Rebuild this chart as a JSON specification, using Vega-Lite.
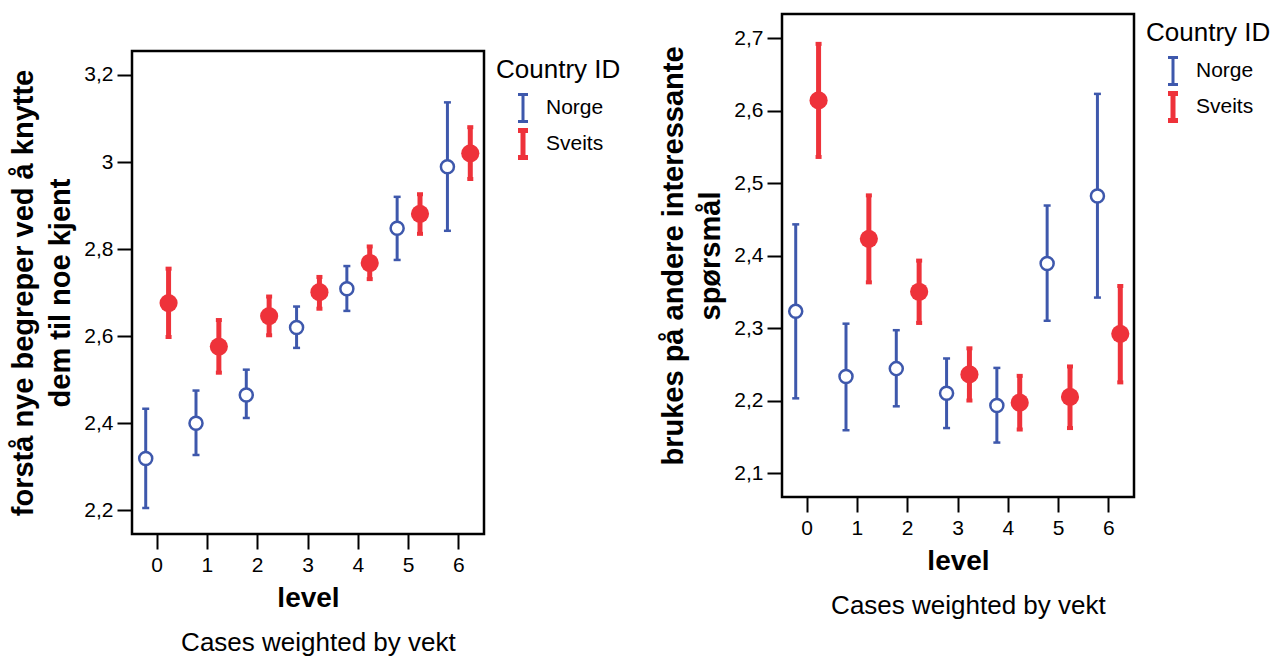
{
  "$schema": "https://vega.github.io/schema/vega-lite/v6.json",
  "padding": {"left": 8, "top": 12, "right": 0, "bottom": 0},
  "datasets": {
    "a": [
      {"level": 0, "country": "Norge", "mean": 2.319, "lo": 2.205, "hi": 2.433},
      {"level": 1, "country": "Norge", "mean": 2.400, "lo": 2.327, "hi": 2.475},
      {"level": 2, "country": "Norge", "mean": 2.465, "lo": 2.412, "hi": 2.523},
      {"level": 3, "country": "Norge", "mean": 2.620, "lo": 2.573, "hi": 2.668},
      {"level": 4, "country": "Norge", "mean": 2.709, "lo": 2.658, "hi": 2.761},
      {"level": 5, "country": "Norge", "mean": 2.848, "lo": 2.775, "hi": 2.920},
      {"level": 6, "country": "Norge", "mean": 2.989, "lo": 2.842, "hi": 3.137},
      {"level": 0, "country": "Sveits", "mean": 2.676, "lo": 2.598, "hi": 2.755},
      {"level": 1, "country": "Sveits", "mean": 2.576, "lo": 2.516, "hi": 2.637},
      {"level": 2, "country": "Sveits", "mean": 2.646, "lo": 2.602, "hi": 2.691},
      {"level": 3, "country": "Sveits", "mean": 2.701, "lo": 2.663, "hi": 2.736},
      {"level": 4, "country": "Sveits", "mean": 2.768, "lo": 2.731, "hi": 2.806},
      {"level": 5, "country": "Sveits", "mean": 2.881, "lo": 2.835, "hi": 2.926},
      {"level": 6, "country": "Sveits", "mean": 3.020, "lo": 2.961, "hi": 3.080}
    ],
    "b": [
      {"level": 0, "country": "Norge", "mean": 2.323, "lo": 2.203, "hi": 2.443},
      {"level": 1, "country": "Norge", "mean": 2.233, "lo": 2.159, "hi": 2.306},
      {"level": 2, "country": "Norge", "mean": 2.244, "lo": 2.192, "hi": 2.297},
      {"level": 3, "country": "Norge", "mean": 2.210, "lo": 2.162, "hi": 2.258},
      {"level": 4, "country": "Norge", "mean": 2.193, "lo": 2.142, "hi": 2.245},
      {"level": 5, "country": "Norge", "mean": 2.389, "lo": 2.310, "hi": 2.469},
      {"level": 6, "country": "Norge", "mean": 2.482, "lo": 2.342, "hi": 2.623},
      {"level": 0, "country": "Sveits", "mean": 2.614, "lo": 2.536, "hi": 2.692},
      {"level": 1, "country": "Sveits", "mean": 2.423, "lo": 2.363, "hi": 2.483},
      {"level": 2, "country": "Sveits", "mean": 2.350, "lo": 2.307, "hi": 2.393},
      {"level": 3, "country": "Sveits", "mean": 2.236, "lo": 2.200, "hi": 2.272},
      {"level": 4, "country": "Sveits", "mean": 2.197, "lo": 2.160, "hi": 2.234},
      {"level": 5, "country": "Sveits", "mean": 2.205, "lo": 2.162, "hi": 2.247},
      {"level": 6, "country": "Sveits", "mean": 2.292, "lo": 2.225, "hi": 2.358}
    ],
    "empty": []
  },
  "hconcat": [
    {
      "spacing": 0,
      "resolve": {"scale": {"color": "independent", "strokeWidth": "independent"}, "legend": {"color": "independent", "strokeWidth": "independent"}},
      "vconcat": [
        {
          "width": 352,
          "height": 35,
          "data": {"name": "empty"},
          "view": {"stroke": null},
          "mark": {"type": "point"}
        },
        {
          "width": 352,
          "height": 483,
          "data": {"name": "a"},
          "title": {"text": "Cases weighted by vekt", "orient": "bottom", "fontSize": 26, "fontWeight": "normal", "offset": 18, "anchor": "middle", "frame": "bounds"},
          "encoding": {
            "x": {"field": "level", "type": "ordinal", "title": "level", "scale": {"paddingInner": 0, "paddingOuter": 0}},
            "xOffset": {"field": "country", "type": "nominal", "scale": {"domain": ["Norge", "Sveits"], "paddingInner": 0, "paddingOuter": 0.1}},
            "y": {"field": "mean", "type": "quantitative", "title": ["forstå nye begreper ved å knytte", "dem til noe kjent"], "scale": {"domain": [2.1455, 3.255], "nice": false, "zero": false}, "axis": {"values": [2.2, 2.4, 2.6, 2.8, 3.0, 3.2], "labelExpr": "replace(format(datum.value, '.1~f'), '.', ',')"}}
          },
          "layer": [
            {
              "mark": {"type": "rule"},
              "encoding": {
                "y": {"field": "lo", "type": "quantitative", "title": ["forstå nye begreper ved å knytte", "dem til noe kjent"]},
                "y2": {"field": "hi"},
                "color": {"field": "country", "type": "nominal", "title": "Country ID", "scale": {"domain": ["Norge", "Sveits"], "range": ["#3e58ac", "#ee323a"]}},
                "strokeWidth": {"field": "country", "type": "ordinal", "title": "Country ID", "scale": {"domain": ["Norge", "Sveits"], "range": [3, 5]}}
              }
            },
            {"transform": [{"filter": "datum.country == 'Norge'"}], "mark": {"type": "tick", "size": 7, "thickness": 2.5, "color": "#3e58ac", "opacity": 1}, "encoding": {"y": {"field": "lo", "type": "quantitative", "title": ["forstå nye begreper ved å knytte", "dem til noe kjent"]}}},
            {"transform": [{"filter": "datum.country == 'Norge'"}], "mark": {"type": "tick", "size": 7, "thickness": 2.5, "color": "#3e58ac", "opacity": 1}, "encoding": {"y": {"field": "hi", "type": "quantitative", "title": ["forstå nye begreper ved å knytte", "dem til noe kjent"]}}},
            {"transform": [{"filter": "datum.country == 'Sveits'"}], "mark": {"type": "tick", "size": 6, "thickness": 4, "color": "#ee323a", "opacity": 1}, "encoding": {"y": {"field": "lo", "type": "quantitative", "title": ["forstå nye begreper ved å knytte", "dem til noe kjent"]}}},
            {"transform": [{"filter": "datum.country == 'Sveits'"}], "mark": {"type": "tick", "size": 6, "thickness": 4, "color": "#ee323a", "opacity": 1}, "encoding": {"y": {"field": "hi", "type": "quantitative", "title": ["forstå nye begreper ved å knytte", "dem til noe kjent"]}}},
            {"transform": [{"filter": "datum.country == 'Norge'"}], "mark": {"type": "point", "shape": "circle", "filled": false, "size": 170, "strokeWidth": 2.5, "color": "#3e58ac", "fill": "white", "fillOpacity": 1, "opacity": 1}},
            {"transform": [{"filter": "datum.country == 'Sveits'"}], "mark": {"type": "point", "shape": "circle", "filled": true, "size": 330, "color": "#ee323a", "opacity": 1}}
          ]
        }
      ]
    },
    {
      "width": 352,
      "height": 483,
      "data": {"name": "b"},
      "title": {"text": "Cases weighted by vekt", "orient": "bottom", "fontSize": 26, "fontWeight": "normal", "offset": 18, "anchor": "middle", "frame": "bounds"},
      "encoding": {
        "x": {"field": "level", "type": "ordinal", "title": "level", "scale": {"paddingInner": 0, "paddingOuter": 0}},
        "xOffset": {"field": "country", "type": "nominal", "scale": {"domain": ["Norge", "Sveits"], "paddingInner": 0, "paddingOuter": 0.1}},
        "y": {"field": "mean", "type": "quantitative", "title": ["brukes på andere interessante", "spørsmål"], "scale": {"domain": [2.0669, 2.7332], "nice": false, "zero": false}, "axis": {"values": [2.1, 2.2, 2.3, 2.4, 2.5, 2.6, 2.7], "labelExpr": "replace(format(datum.value, '.1~f'), '.', ',')"}}
      },
      "layer": [
        {
          "mark": {"type": "rule"},
          "encoding": {
            "y": {"field": "lo", "type": "quantitative", "title": ["brukes på andere interessante", "spørsmål"]},
            "y2": {"field": "hi"},
            "color": {"field": "country", "type": "nominal", "title": "Country ID", "scale": {"domain": ["Norge", "Sveits"], "range": ["#3e58ac", "#ee323a"]}},
            "strokeWidth": {"field": "country", "type": "ordinal", "title": "Country ID", "scale": {"domain": ["Norge", "Sveits"], "range": [3, 5]}}
          }
        },
        {"transform": [{"filter": "datum.country == 'Norge'"}], "mark": {"type": "tick", "size": 7, "thickness": 2.5, "color": "#3e58ac", "opacity": 1}, "encoding": {"y": {"field": "lo", "type": "quantitative", "title": ["brukes på andere interessante", "spørsmål"]}}},
        {"transform": [{"filter": "datum.country == 'Norge'"}], "mark": {"type": "tick", "size": 7, "thickness": 2.5, "color": "#3e58ac", "opacity": 1}, "encoding": {"y": {"field": "hi", "type": "quantitative", "title": ["brukes på andere interessante", "spørsmål"]}}},
        {"transform": [{"filter": "datum.country == 'Sveits'"}], "mark": {"type": "tick", "size": 6, "thickness": 4, "color": "#ee323a", "opacity": 1}, "encoding": {"y": {"field": "lo", "type": "quantitative", "title": ["brukes på andere interessante", "spørsmål"]}}},
        {"transform": [{"filter": "datum.country == 'Sveits'"}], "mark": {"type": "tick", "size": 6, "thickness": 4, "color": "#ee323a", "opacity": 1}, "encoding": {"y": {"field": "hi", "type": "quantitative", "title": ["brukes på andere interessante", "spørsmål"]}}},
        {"transform": [{"filter": "datum.country == 'Norge'"}], "mark": {"type": "point", "shape": "circle", "filled": false, "size": 170, "strokeWidth": 2.5, "color": "#3e58ac", "fill": "white", "fillOpacity": 1, "opacity": 1}},
        {"transform": [{"filter": "datum.country == 'Sveits'"}], "mark": {"type": "point", "shape": "circle", "filled": true, "size": 330, "color": "#ee323a", "opacity": 1}}
      ]
    }
  ],
  "spacing": 29,
  "resolve": {"scale": {"color": "independent", "strokeWidth": "independent", "y": "independent", "x": "independent", "xOffset": "independent"}, "legend": {"color": "independent", "strokeWidth": "independent"}},
  "config": {
    "font": "Liberation Sans",
    "background": "white",
    "view": {"stroke": "black", "strokeWidth": 2.5},
    "axis": {"domain": false, "grid": false, "ticks": true, "tickColor": "black", "tickWidth": 2, "tickSize": 15, "labelColor": "black", "labelFontSize": 21, "labelFont": "Liberation Sans", "titleColor": "black", "titleFontSize": 28, "titleFontWeight": "bold", "titleFont": "Liberation Sans"},
    "axisX": {"labelAngle": 0, "labelPadding": 5, "titlePadding": 9},
    "axisY": {"labelPadding": 4, "titlePadding": 8, "titleLineHeight": 37, "titleFontSize": 29},
    "legend": {"titleFontSize": 26, "titleFontWeight": "normal", "titleColor": "black", "labelFontSize": 21, "labelColor": "black", "symbolSize": 729, "symbolType": "M-0.37,-1H0.37M0,-1V1M-0.37,1H0.37", "symbolFillColor": "transparent", "offset": 6, "padding": 6, "rowPadding": -14, "symbolOffset": 11, "labelOffset": 7, "titlePadding": 10},
    "title": {"color": "black", "fontWeight": "normal", "font": "Liberation Sans"}
  }
}
